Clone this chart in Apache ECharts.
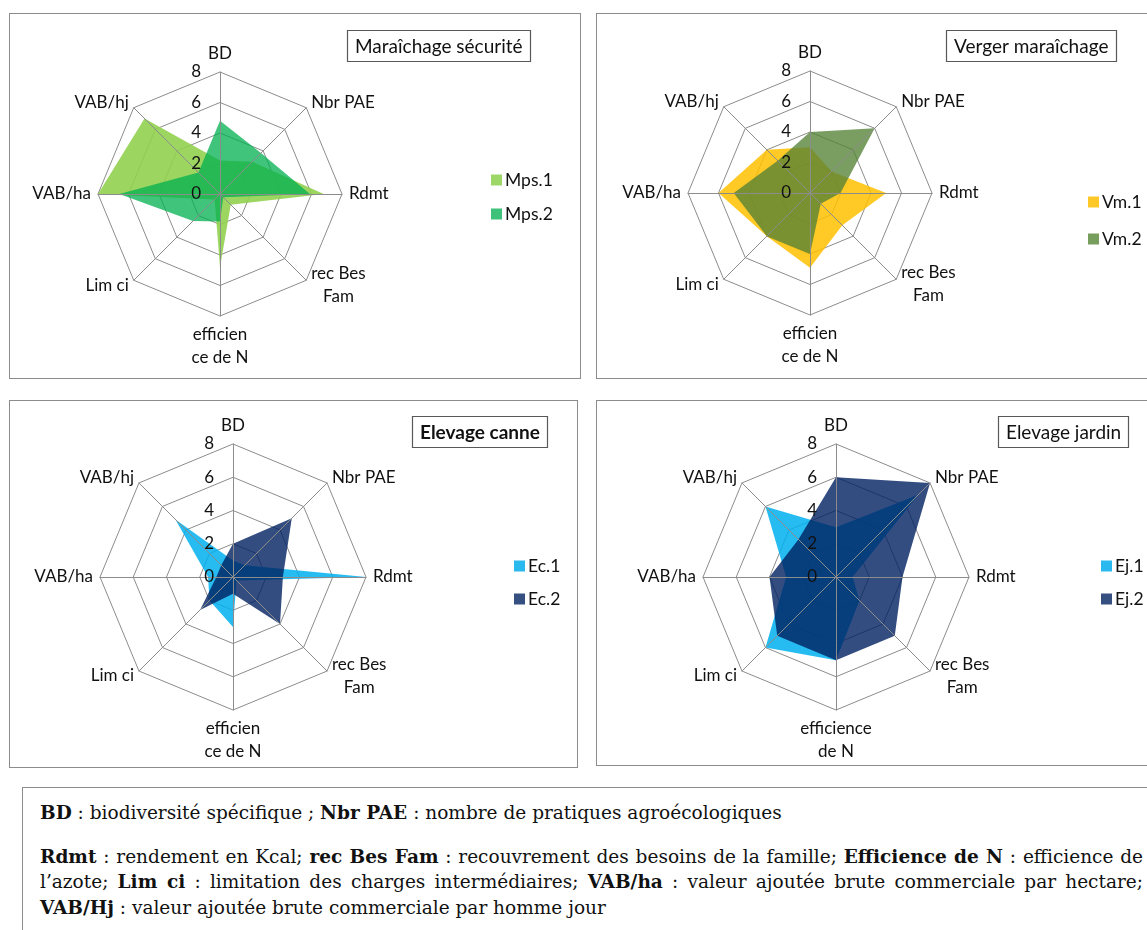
<!DOCTYPE html>
<html><head><meta charset="utf-8">
<script src="https://cdn.jsdelivr.net/npm/echarts@6/dist/echarts.min.js"></script>
<style>
html,body{margin:0;padding:0;background:#fff;}
body{width:1147px;height:930px;overflow:hidden;position:relative;}
.panel{position:absolute;border:1px solid #8c8c8c;box-sizing:border-box;overflow:hidden;}
.chart{position:absolute;left:0;top:0;width:100%;height:100%;}
#note{position:absolute;left:22px;top:787px;width:1160px;height:170px;border:1.5px solid #8c8c8c;box-sizing:border-box;font-family:'DejaVu Serif',serif;color:#111;}
#note .ln{position:absolute;left:17px;white-space:nowrap;line-height:22px;}
#note .j{width:1103px;text-align:justify;text-align-last:justify;white-space:normal;}
</style></head><body>
<div class="panel" style="left:9px;top:13px;width:572px;height:366px;"><div id="c1" class="chart"></div></div>
<div class="panel" style="left:596px;top:13px;width:570px;height:366px;"><div id="c2" class="chart"></div></div>
<div class="panel" style="left:9px;top:400px;width:569px;height:368px;"><div id="c3" class="chart"></div></div>
<div class="panel" style="left:596px;top:400px;width:570px;height:366px;"><div id="c4" class="chart"></div></div>
<div id="note">
  <div class="ln" id="l1" style="top:14px;"><b>BD</b> : biodiversité spécifique ; <b>Nbr PAE</b> : nombre de pratiques agroécologiques</div>
  <div class="ln j" style="top:58px;"><b>Rdmt</b> : rendement en Kcal; <b>rec Bes Fam</b> : recouvrement des besoins de la famille; <b>Efficience de N</b> : efficience de</div>
  <div class="ln j" style="top:83px;">l’azote; <b>Lim ci</b> : limitation des charges intermédiaires; <b>VAB/ha</b> : valeur ajoutée brute commerciale par hectare;</div>
  <div class="ln" style="top:109px;"><b>VAB/Hj</b> : valeur ajoutée brute commerciale par homme jour</div>
</div>
<script>
// ---- data (axis order: BD, Nbr PAE, Rdmt, rec Bes Fam, efficience de N, Lim ci, VAB/ha, VAB/hj)
const indicators = ['BD', 'Nbr PAE', 'Rdmt', 'rec Bes Fam', 'efficience de N', 'Lim ci', 'VAB/ha', 'VAB/hj'];
const axisMax = 8;
const panelTitles = ['Maraîchage sécurité', 'Verger maraîchage', 'Elevage canne', 'Elevage jardin'];
const seriesNames = [['Mps.1', 'Mps.2'], ['Vm.1', 'Vm.2'], ['Ec.1', 'Ec.2'], ['Ej.1', 'Ej.2']];
const Mps1 = [2.2, 3, 6.8, 1, 4.8, 0.5, 8, 7];
const Mps2 = [4.8, 3.8, 5.9, 0.3, 1.8, 2.5, 6.6, 2];
const Vm1 = [3, 2, 5, 3, 4.9, 4, 6, 4];
const Vm2 = [4, 6, 2, 1, 4, 4, 5, 3];
const Ec1 = [1, 1, 8, 0.3, 3, 2, 1.5, 4.9];
const Ec2 = [2, 5, 3, 4, 1, 2.8, 1, 1];
const Ej1 = [3, 7, 1, 2, 5, 6, 3, 6];
const Ej2 = [6, 8, 4, 5, 5, 5, 4, 3.2];

const FONT = 'Lato, "Open Sans", sans-serif';
// ECharts radar runs counter-clockwise; Excel runs clockwise
const order = [0, 7, 6, 5, 4, 3, 2, 1];
const reorder = arr => order.map(i => arr[i]);

function displayName(name, panel) {
  if (name === 'rec Bes Fam') return '{c|rec Bes}\n{c|Fam}';
  if (name === 'efficience de N') return panel === 3 ? 'efficience\nde N' : 'efficien\nce de N';
  return name;
}

const panels = [
  {id: 'c1', title: panelTitles[0], bold: false, titlePos: [337, 16], center: [210, 180], radius: 122,
   legendPos: [476, 152], legendGap: 16, data: [Mps1, Mps2],
   legendColors: ['#9dd767', '#3ec27a'], fills: ['rgba(146,208,80,0.9)', 'rgba(0,176,80,0.75)']},
  {id: 'c2', title: panelTitles[1], bold: false, titlePos: [349, 16], center: [213, 179], radius: 122,
   legendPos: [486, 174], legendGap: 19, data: [Vm1, Vm2],
   legendColors: ['#fec828', '#779e5c'], fills: ['rgba(255,192,0,0.85)', 'rgba(84,130,53,0.78)']},
  {id: 'c3', title: panelTitles[2], bold: true, titlePos: [402, 15], center: [223, 176], radius: 133,
   legendPos: [499, 151], legendGap: 15, data: [Ec1, Ec2],
   legendColors: ['#29b9ee', '#344f80'], fills: ['rgba(0,176,240,0.85)', 'rgba(0,32,96,0.8)']},
  {id: 'c4', title: panelTitles[3], bold: false, titlePos: [401, 15], center: [239, 176], radius: 133,
   legendPos: [499, 151], legendGap: 15, data: [Ej1, Ej2],
   legendColors: ['#29b9ee', '#344f80'], fills: ['rgba(0,176,240,0.85)', 'rgba(0,32,96,0.8)']}
];

panels.forEach((p, pi) => {
  const chart = echarts.init(document.getElementById(p.id), null, {renderer: 'canvas'});
  const names = seriesNames[pi];
  const common = {center: p.center, radius: p.radius, shape: 'polygon', splitNumber: 4, startAngle: 90};
  chart.setOption({
    animation: false,
    title: {
      text: p.title, left: p.titlePos[0], top: p.titlePos[1],
      borderColor: '#595959', borderWidth: 1.2, padding: [7, 8, 6, 8],
      textStyle: {fontFamily: FONT, fontSize: 19, fontWeight: p.bold ? 'bold' : 'normal', color: '#111'}
    },
    legend: {
      orient: 'vertical', left: p.legendPos[0], top: p.legendPos[1], itemGap: p.legendGap,
      itemWidth: 11, itemHeight: 11, icon: 'rect', selectedMode: false,
      textStyle: {fontFamily: FONT, fontSize: 17.5, color: '#111', padding: [0, 0, 0, -2]},
      data: names
    },
    radar: [
      Object.assign({}, common, {
        indicator: order.map(i => ({name: displayName(indicators[i], pi), min: 0, max: axisMax})),
        nameGap: 7,
        axisName: {color: '#111', fontFamily: FONT, fontSize: 17, lineHeight: 23,
                   rich: {c: {align: 'center', fontFamily: FONT, fontSize: 17, lineHeight: 23, color: '#111'}}},
        splitLine: {lineStyle: {color: '#8c8c8c', width: 1}},
        splitArea: {show: false},
        axisLine: {show: false},
        axisTick: {show: false},
        axisLabel: {show: false},
        z: 1
      }),
      Object.assign({}, common, {
        indicator: order.map((i, k) => ({name: '', min: 0, max: axisMax, axisLabel: {show: k === 0}})),
        axisName: {show: false},
        splitLine: {show: false},
        splitArea: {show: false},
        axisLine: {show: true, lineStyle: {color: '#8c8c8c', width: 1}},
        axisTick: {show: false},
        axisLabel: {show: true, color: '#111', fontFamily: FONT, fontSize: 17, margin: 19},
        z: 5
      })
    ],
    series: names.map((n, si) => ({
      type: 'radar', radarIndex: 0, name: n, symbol: 'none', z: 2 + si,
      itemStyle: {color: p.legendColors[si]},
      lineStyle: {width: 0, opacity: 0},
      areaStyle: {color: p.fills[si], opacity: 1},
      data: [{name: n, value: reorder(p.data[si])}]
    }))
  });
});

// fit the note font to the reference line width
(function () {
  const l1 = document.getElementById('l1');
  const note = document.getElementById('note');
  note.style.fontSize = '16px';
  const w = l1.getBoundingClientRect().width;
  note.style.fontSize = (16 * 742 / w).toFixed(2) + 'px';
})();
</script>
</body></html>
